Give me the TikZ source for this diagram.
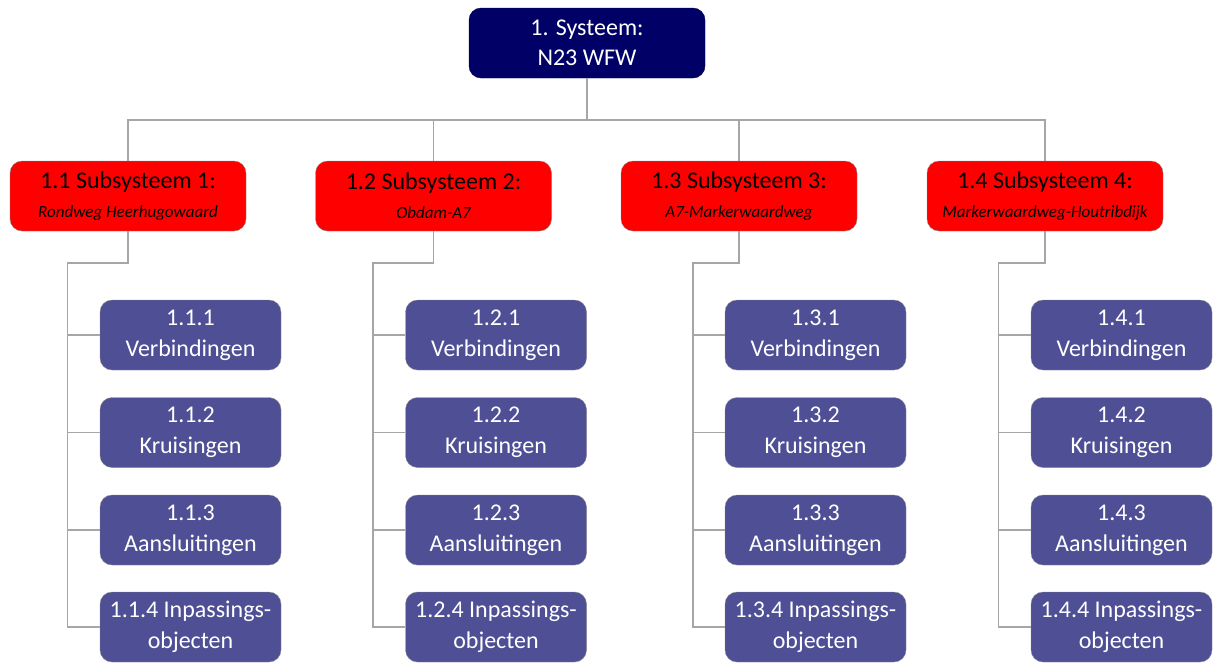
\documentclass[tikz,border=0pt]{standalone}
\usepackage{fontspec}
\setmainfont{Carlito}
\definecolor{navybox}{RGB}{0,0,102}
\definecolor{redbox}{RGB}{255,0,0}
\definecolor{slatebox}{RGB}{79,79,150}
\definecolor{linkgray}{RGB}{166,166,166}
\tikzset{
  sysbox/.style={draw=navybox!70!black, fill=navybox, rounded corners=12pt,
    minimum width=236pt, minimum height=70pt, text=white, align=center,
    font=\fontsize{24}{30}\selectfont, inner sep=0pt},
  subbox/.style={draw=black!45, fill=redbox, rounded corners=12pt,
    minimum width=236pt, minimum height=70pt, text=black, align=center,
    font=\fontsize{24}{29}\selectfont, inner sep=0pt},
  partbox/.style={draw=black!45, fill=slatebox, rounded corners=12pt,
    minimum width=181pt, minimum height=70pt, text=white, align=center,
    font=\fontsize{24}{31}\selectfont, inner sep=0pt},
  link/.style={draw=linkgray, line width=1.5pt}
}
\begin{document}
\begin{tikzpicture}[x=1pt, y=-1pt]
  \useasboundingbox (0,0) rectangle (1216,662);

  % top level
  \node[sysbox] (sys) at (587,43) {1. Systeem:\\N23 WFW};
  \coordinate (bus) at (587,120);
  \draw[link] (sys.south) -- (bus);

  % subsystems with their parts
  \foreach \i/\cx/\sx/\px/\route in {
      1/128/67.5/190.5/Rondweg Heerhugowaard,
      2/433.5/373/496/Obdam-A7,
      3/739/693/815.5/A7-Markerwaardweg,
      4/1045/998.5/1121.5/Markerwaardweg-Houtribdijk} {
    \node[subbox] (s\i) at (\cx,196)
      {1.\i\ Subsysteem \i:\\{\fontsize{17}{20}\selectfont\itshape \route}};
    \draw[link] (s\i.north) |- (bus);

    \node[partbox] (c\i1) at (\px,335)   {1.\i.1\\Verbindingen};
    \node[partbox] (c\i2) at (\px,432.5) {1.\i.2\\Kruisingen};
    \node[partbox] (c\i3) at (\px,530)   {1.\i.3\\Aansluitingen};
    \node[partbox] (c\i4) at (\px,627)   {1.\i.4 Inpassings-\\objecten};

    \coordinate (k\i) at (\sx,263);
    \draw[link] (s\i.south) |- (k\i) -- (k\i |- c\i4.west) -- (c\i4.west);
    \foreach \j in {1,2,3}
      \draw[link] (k\i |- c\i\j.west) -- (c\i\j.west);
  }
\end{tikzpicture}
\end{document}
